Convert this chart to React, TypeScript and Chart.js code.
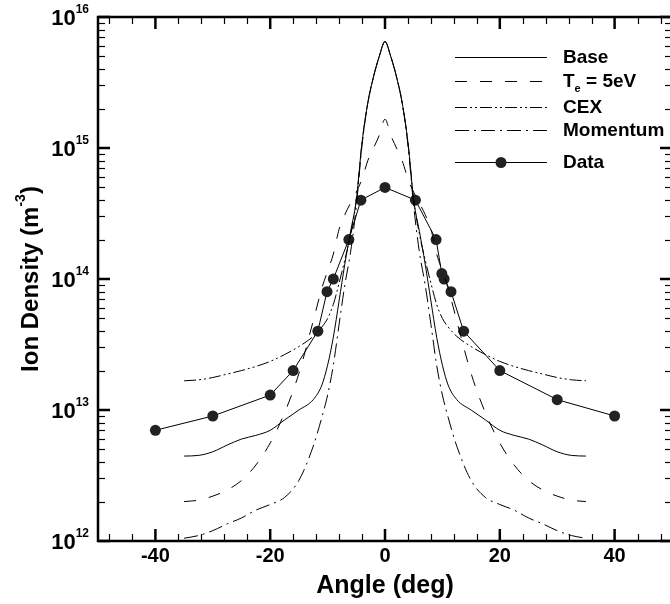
import React, { useEffect, useRef } from 'react';
import { Chart, registerables } from 'chart.js';

Chart.register(...registerables);

// ---------- data ----------
const modelAngle = [-35, -32.5, -30, -27.5, -25, -22.5, -20, -17.5, -15, -12.5, -11, -10, -9, -8, -7, -6, -5, -4, -3, -2, -1, 0, 1, 2, 3, 4, 5, 6, 7, 8, 9, 10, 11, 12.5, 15, 17.5, 20, 22.5, 25, 27.5, 30, 32.5, 35];

const baseDensity = [4.45e12, 4.5e12, 4.8e12, 5.4e12, 6.0e12, 6.4e12, 7.0e12, 8.4e12, 1.0e13, 1.2e13, 1.55e13, 2.2e13, 3.6e13, 6.8e13, 1.3e14, 2.3e14, 4.0e14, 1.1e15, 2.2e15, 3.5e15, 5.0e15, 6.5e15, 5.0e15, 3.5e15, 2.2e15, 1.1e15, 4.0e14, 2.3e14, 1.3e14, 6.8e13, 3.6e13, 2.2e13, 1.55e13, 1.2e13, 1.0e13, 8.4e12, 7.0e12, 6.4e12, 6.0e12, 5.4e12, 4.8e12, 4.5e12, 4.45e12];

const te5Density = [2.0e12, 2.05e12, 2.2e12, 2.45e12, 2.9e12, 3.8e12, 5.6e12, 9.5e12, 1.9e13, 4.8e13, 8.5e13, 1.15e14, 1.55e14, 2.4e14, 3.1e14, 3.8e14, 4.6e14, 5.8e14, 8.0e14, 1.0e15, 1.25e15, 1.66e15, 1.25e15, 1.0e15, 8.0e14, 5.8e14, 4.6e14, 3.8e14, 3.1e14, 2.4e14, 1.55e14, 1.15e14, 8.5e13, 4.8e13, 1.9e13, 9.5e12, 5.6e12, 3.8e12, 2.9e12, 2.45e12, 2.2e12, 2.05e12, 2.0e12];

const cexDensity = [1.67e13, 1.7e13, 1.77e13, 1.88e13, 2.0e13, 2.15e13, 2.35e13, 2.65e13, 3.05e13, 3.65e13, 4.3e13, 5.0e13, 6.4e13, 9.3e13, 1.4e14, 2.2e14, 4.0e14, 1.1e15, 2.2e15, 3.5e15, 5.0e15, 6.5e15, 5.0e15, 3.5e15, 2.2e15, 1.1e15, 4.0e14, 2.2e14, 1.4e14, 9.3e13, 6.4e13, 5.0e13, 4.3e13, 3.65e13, 3.05e13, 2.65e13, 2.35e13, 2.15e13, 2.0e13, 1.88e13, 1.77e13, 1.7e13, 1.67e13];

const momentumDensity = [1.05e12, 1.1e12, 1.2e12, 1.35e12, 1.5e12, 1.72e12, 1.9e12, 2.15e12, 2.9e12, 5.3e12, 8.8e12, 1.3e13, 2.2e13, 4.5e13, 9.0e13, 1.6e14, 3.6e14, 1.05e15, 2.2e15, 3.5e15, 5.0e15, 6.5e15, 5.0e15, 3.5e15, 2.2e15, 1.05e15, 3.6e14, 1.6e14, 9.0e13, 4.5e13, 2.2e13, 1.3e13, 8.8e12, 5.3e12, 2.9e12, 2.15e12, 1.9e12, 1.72e12, 1.5e12, 1.35e12, 1.2e12, 1.1e12, 1.05e12];

const dataAngle = [-40, -30, -20, -16, -11.7, -10.1, -9, -6.3, -4.2, 0, 5.3, 8.9, 9.9, 10.3, 11.5, 13.7, 20, 30, 40];
const dataDensity = [7.0e12, 9.0e12, 1.3e13, 2.0e13, 4.0e13, 8.0e13, 1.0e14, 2.0e14, 4.0e14, 5.0e14, 4.0e14, 2.0e14, 1.1e14, 1.0e14, 8.0e13, 4.0e13, 2.0e13, 1.2e13, 9.0e12];

const xMajorTicks = [-40, -20, 0, 20, 40];
const xTickLabels = ['-40', '-20', '0', '20', '40'];
const xMinorTicks = [-48, -44, -36, -32, -28, -24, -16, -12, -8, -4, 4, 8, 12, 16, 24, 28, 32, 36, 44, 48];
const yDecadeExponents = [12, 13, 14, 15, 16];
const legendLabels = ['Base', 'T|e| = 5eV', 'CEX', 'Momentum', 'Data'];

const FONT = '"Liberation Sans", Arial, Helvetica, sans-serif';
const DASH_TE = [12, 13];
const DASH_CEX = [12, 3, 2, 3, 2, 3];
const DASH_MOM = [14, 5, 2, 5];

const CANVAS_W = 690;
const CANVAS_H = 604;

const toPoints = (xs: number[], ys: number[]) => xs.map((x, i) => ({ x, y: ys[i] }));

const decorPlugin = {
  id: 'decor',
  afterDraw(chart: any) {
    const ctx: CanvasRenderingContext2D = chart.ctx;
    const { left, right, top, bottom } = chart.chartArea;
    const xs = chart.scales.x;
    const ys = chart.scales.y;
    ctx.save();
    ctx.setLineDash([]);
    ctx.strokeStyle = '#000';
    ctx.fillStyle = '#000';
    ctx.lineCap = 'butt';

    const line = (x1: number, y1: number, x2: number, y2: number, w: number) => {
      ctx.lineWidth = w;
      ctx.beginPath();
      ctx.moveTo(x1, y1);
      ctx.lineTo(x2, y2);
      ctx.stroke();
    };

    // x ticks (bottom and top, pointing inward)
    xMinorTicks.forEach((v) => {
      const px = Math.round(xs.getPixelForValue(v)) + 0.5;
      line(px, bottom, px, bottom - 7, 1.2);
      line(px, top, px, top + 7, 1.2);
    });
    xMajorTicks.forEach((v) => {
      const px = xs.getPixelForValue(v);
      line(px, bottom, px, bottom - 12, 2.5);
      line(px, top, px, top + 12, 2.5);
    });
    // y ticks
    for (let d = 12; d < 16; d++) {
      for (let m = 2; m <= 9; m++) {
        const py = Math.round(ys.getPixelForValue(m * Math.pow(10, d))) + 0.5;
        line(left, py, left + 7, py, 1.2);
        line(right, py, right - 7, py, 1.2);
      }
    }
    yDecadeExponents.forEach((e) => {
      const py = ys.getPixelForValue(Math.pow(10, e));
      line(left, py, left + 12, py, 2.5);
      line(right, py, right - 12, py, 2.5);
    });

    // frame
    ctx.lineWidth = 2.5;
    ctx.strokeRect(left, top, right - left, bottom - top);

    // x tick labels
    ctx.font = `bold 20px ${FONT}`;
    ctx.textAlign = 'center';
    ctx.textBaseline = 'middle';
    xMajorTicks.forEach((v, i) => {
      ctx.fillText(xTickLabels[i], xs.getPixelForValue(v), bottom + 15);
    });

    // y tick labels 10^n
    const rightEdge = left - 9;
    yDecadeExponents.forEach((e) => {
      const py = ys.getPixelForValue(Math.pow(10, e));
      ctx.font = `bold 12px ${FONT}`;
      const supW = ctx.measureText(String(e)).width;
      ctx.font = `bold 22px ${FONT}`;
      const baseW = ctx.measureText('10').width;
      ctx.textAlign = 'left';
      ctx.textBaseline = 'middle';
      ctx.fillText('10', rightEdge - supW - baseW, py + 2);
      ctx.font = `bold 12px ${FONT}`;
      ctx.fillText(String(e), rightEdge - supW, py - 7);
    });

    // x title
    ctx.font = `bold 25px ${FONT}`;
    ctx.textAlign = 'center';
    ctx.textBaseline = 'middle';
    ctx.fillText('Angle (deg)', xs.getPixelForValue(0), bottom + 45);

    // y title (rotated, with superscript)
    ctx.save();
    ctx.translate(31, (top + bottom) / 2);
    ctx.rotate(-Math.PI / 2);
    const main = 'Ion Density (m';
    const sup = '-3';
    const close = ')';
    ctx.font = `bold 24px ${FONT}`;
    const mW = ctx.measureText(main).width;
    const cW = ctx.measureText(close).width;
    ctx.font = `bold 14px ${FONT}`;
    const sW = ctx.measureText(sup).width;
    const total = mW + sW + cW;
    const x0 = -total / 2;
    ctx.textAlign = 'left';
    ctx.textBaseline = 'middle';
    ctx.font = `bold 24px ${FONT}`;
    ctx.fillText(main, x0, 0);
    ctx.font = `bold 14px ${FONT}`;
    ctx.fillText(sup, x0 + mW, -10);
    ctx.font = `bold 24px ${FONT}`;
    ctx.fillText(close, x0 + mW + sW, 0);
    ctx.restore();

    // legend
    const lx1 = 455;
    const lx2 = 547;
    const tx = 563;
    const rows = [57, 81, 107, 130, 162];
    const dashes = [[], DASH_TE, DASH_CEX, DASH_MOM, []];
    rows.forEach((ry, i) => {
      ctx.setLineDash(dashes[i]);
      ctx.lineWidth = 1;
      ctx.beginPath();
      ctx.moveTo(lx1, ry + 0.5);
      ctx.lineTo(lx2, ry + 0.5);
      ctx.stroke();
      ctx.setLineDash([]);
      if (i === 4) {
        ctx.fillStyle = '#222';
        ctx.beginPath();
        ctx.arc((lx1 + lx2) / 2, ry + 0.5, 5.5, 0, Math.PI * 2);
        ctx.fill();
        ctx.fillStyle = '#000';
      }
      const label = legendLabels[i];
      ctx.textAlign = 'left';
      ctx.textBaseline = 'middle';
      if (label.indexOf('|') >= 0) {
        const parts = label.split('|');
        ctx.font = `bold 19px ${FONT}`;
        ctx.fillText(parts[0], tx, ry + 1);
        const w0 = ctx.measureText(parts[0]).width;
        ctx.font = `bold 11px ${FONT}`;
        ctx.fillText(parts[1], tx + w0, ry + 8);
        const w1 = ctx.measureText(parts[1]).width;
        ctx.font = `bold 19px ${FONT}`;
        ctx.fillText(parts[2], tx + w0 + w1, ry + 1);
      } else {
        ctx.font = `bold 19px ${FONT}`;
        ctx.fillText(label, tx, ry + 1);
      }
    });

    ctx.restore();
  },
};

export default function App() {
  const canvasRef = useRef<HTMLCanvasElement | null>(null);

  useEffect(() => {
    const canvas = canvasRef.current;
    if (!canvas) return;
    const lineStyle = {
      borderColor: '#000',
      borderWidth: 1,
      pointRadius: 0,
      cubicInterpolationMode: 'monotone' as const,
      fill: false,
    };
    const chart = new Chart(canvas, {
      type: 'line',
      data: {
        datasets: [
          { label: 'Base', data: toPoints(modelAngle, baseDensity), ...lineStyle },
          { label: 'Te = 5eV', data: toPoints(modelAngle, te5Density), ...lineStyle, borderDash: DASH_TE },
          { label: 'CEX', data: toPoints(modelAngle, cexDensity), ...lineStyle, borderDash: DASH_CEX },
          { label: 'Momentum', data: toPoints(modelAngle, momentumDensity), ...lineStyle, borderDash: DASH_MOM },
          {
            label: 'Data',
            data: toPoints(dataAngle, dataDensity),
            borderColor: '#000',
            borderWidth: 1,
            pointRadius: 5.5,
            pointBackgroundColor: '#222',
            pointBorderColor: '#222',
            pointBorderWidth: 0,
            tension: 0,
            fill: false,
          },
        ],
      } as any,
      options: {
        responsive: false,
        animation: false,
        devicePixelRatio: 1,
        layout: { padding: { left: 98, top: 17, right: CANVAS_W - 672, bottom: CANVAS_H - 541 } },
        plugins: { legend: { display: false }, tooltip: { enabled: false } },
        scales: {
          x: { type: 'linear', min: -50, max: 50, display: false },
          y: { type: 'logarithmic', min: 1e12, max: 1e16, display: false },
        },
      } as any,
      plugins: [decorPlugin],
    });
    return () => chart.destroy();
  }, []);

  return (
    <div style={{ position: 'fixed', left: 0, top: 0, width: 670, height: 604, overflow: 'hidden', background: '#fff' }}>
      <canvas ref={canvasRef} width={CANVAS_W} height={CANVAS_H} style={{ width: CANVAS_W, height: CANVAS_H, display: 'block' }} />
    </div>
  );
}
